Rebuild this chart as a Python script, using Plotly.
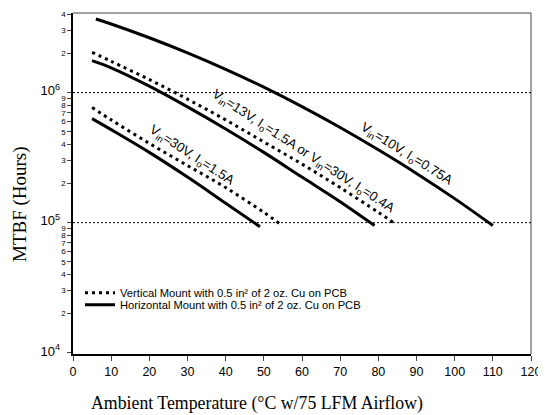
import plotly.graph_objects as go

# ---- data ----
temp_10v_h = [6, 10, 20, 30, 40, 50, 60, 70, 80, 90, 100, 110]
mtbf_10v_h = [3.68e6, 3.37e6, 2.64e6, 2.02e6, 1.51e6, 1.10e6, 7.80e5, 5.39e5, 3.63e5, 2.39e5, 1.53e5, 9.5e4]

temp_13v_v = [5, 10, 20, 30, 40, 50, 60, 70, 80, 84]
mtbf_13v_v = [2.04e6, 1.74e6, 1.26e6, 8.9e5, 6.17e5, 4.17e5, 2.82e5, 1.86e5, 1.20e5, 1.0e5]

temp_13v_h = [5, 10, 20, 30, 40, 50, 60, 70, 79]
mtbf_13v_h = [1.76e6, 1.55e6, 1.12e6, 7.76e5, 5.25e5, 3.47e5, 2.24e5, 1.45e5, 9.5e4]

temp_30v_v = [5, 10, 20, 30, 40, 50, 54]
mtbf_30v_v = [7.67e5, 6.17e5, 4.07e5, 2.75e5, 1.86e5, 1.20e5, 9.9e4]

temp_30v_h = [5, 10, 20, 30, 40, 49]
mtbf_30v_h = [6.31e5, 5.19e5, 3.47e5, 2.24e5, 1.41e5, 9.3e4]

x_ticks = [0, 10, 20, 30, 40, 50, 60, 70, 80, 90, 100, 110, 120]
y_tick_vals = [1e4, 2e4, 3e4, 4e4, 5e4, 6e4, 7e4, 8e4, 9e4,
               1e5, 2e5, 3e5, 4e5, 5e5, 6e5, 7e5, 8e5, 9e5,
               1e6, 2e6, 3e6, 4e6]
y_tick_text = ["10<sup>4</sup>", "2", "3", "4", "5", "6", "7", "8", "9",
               "10<sup>5</sup>", "2", "3", "4", "5", "6", "7", "8", "9",
               "10<sup>6</sup>", "2", "3", "4"]
major_labels = {"10<sup>4</sup>", "10<sup>5</sup>", "10<sup>6</sup>"}

legend_vertical = "Vertical Mount with 0.5 in² of 2 oz. Cu on PCB"
legend_horizontal = "Horizontal Mount with 0.5 in² of 2 oz. Cu on PCB"

label_10v = "V<sub>in</sub>=10V, I<sub>o</sub>=0.75A"
label_13v = "V<sub>in</sub>=13V, I<sub>o</sub>=1.5A or V<sub>in</sub>=30V, I<sub>o</sub>=0.4A"
label_30v = "V<sub>in</sub>=30V, I<sub>o</sub>=1.5A"

x_title = "Ambient Temperature (°C w/75 LFM Airflow)"
y_title = "MTBF (Hours)"

# ---- figure ----
fig = go.Figure()
solid = dict(color="black", width=3)
dotted = dict(color="black", width=3, dash="3px,4px")

fig.add_trace(go.Scatter(x=temp_13v_v, y=mtbf_13v_v, mode="lines", line=dotted,
                         line_shape="spline", name=legend_vertical, legend="legend"))
fig.add_trace(go.Scatter(x=temp_10v_h, y=mtbf_10v_h, mode="lines", line=solid,
                         line_shape="spline", name=legend_horizontal, legend="legend2"))
fig.add_trace(go.Scatter(x=temp_13v_h, y=mtbf_13v_h, mode="lines", line=solid,
                         line_shape="spline", showlegend=False))
fig.add_trace(go.Scatter(x=temp_30v_v, y=mtbf_30v_v, mode="lines", line=dotted,
                         line_shape="spline", showlegend=False))
fig.add_trace(go.Scatter(x=temp_30v_h, y=mtbf_30v_h, mode="lines", line=solid,
                         line_shape="spline", showlegend=False))

ticktext = [
    f'<span style="font-size:13px">{t}</span>\u2002\u2009' if t in major_labels else t
    for t in y_tick_text
]

# page body has an 8px default margin, so the figure is 8px smaller
PLOT_L, PLOT_T, PLOT_W, PLOT_H = 73, 13, 458, 341  # final page pixels
OFF = 8
W, H = 546 - OFF, 415 - OFF

def ppx(px):
    return (px - PLOT_L) / PLOT_W

def ppy(py):
    return (PLOT_T + PLOT_H - py) / PLOT_H

leg_common = dict(x=ppx(80), xanchor="left", yanchor="top",
                  bgcolor="rgba(0,0,0,0)", font=dict(size=11.2), itemwidth=30)

fig.update_layout(
    width=W, height=H,
    margin=dict(l=PLOT_L - OFF, r=W - (PLOT_L - OFF) - PLOT_W, t=PLOT_T - OFF,
                b=H - (PLOT_T - OFF) - PLOT_H, autoexpand=False),
    paper_bgcolor="white", plot_bgcolor="white",
    font=dict(family="Arial, Liberation Sans, sans-serif", color="black"),
    showlegend=True,
    legend=dict(y=ppy(291.5 - 13.3), **leg_common),
    legend2=dict(y=ppy(303.5 - 13.3), **leg_common),
    xaxis=dict(range=[0, 120], tickvals=x_ticks, ticks="outside", ticklen=5,
               showline=True, linecolor="black", linewidth=1.5,
               showgrid=False, zeroline=False, tickfont=dict(size=12.5)),
    yaxis=dict(type="log", range=[3.99, 6.612], tickvals=y_tick_vals,
               ticktext=ticktext, ticks="outside", ticklen=4,
               showline=True, linecolor="black", linewidth=1.5,
               showgrid=False, zeroline=False, tickfont=dict(size=8)),
)

# frame (top and right) and dotted reference lines
fig.add_shape(type="line", xref="paper", yref="paper", x0=0, x1=1, y0=1, y1=1,
              line=dict(color="#444", width=1))
fig.add_shape(type="line", xref="paper", yref="paper", x0=1, x1=1, y0=0, y1=1,
              line=dict(color="#444", width=1))
for yv in [1e5, 1e6]:
    fig.add_shape(type="line", xref="paper", yref="y", x0=0, x1=1, y0=yv, y1=yv,
                  line=dict(color="black", width=1, dash="2px,2px"))

# curve labels
lab_font = dict(family="Arial, Liberation Sans, sans-serif", size=13.3, color="black")
fig.add_annotation(x=87.5, y=5.527, text=label_10v, textangle=32, showarrow=False, font=lab_font)
fig.add_annotation(x=60.2, y=5.545, text=label_13v, textangle=33, showarrow=False, font=lab_font)
fig.add_annotation(x=31.1, y=5.519, text=label_30v, textangle=33, showarrow=False, font=lab_font)

# axis titles
serif = "Liberation Serif, Times New Roman, serif"
fig.add_annotation(xref="paper", yref="paper", x=ppx(257), y=ppy(403),
                   text=x_title, showarrow=False,
                   font=dict(family=serif, size=17.8), xanchor="center", yanchor="middle")
fig.add_annotation(xref="paper", yref="paper", x=ppx(20), y=ppy(204),
                   text=y_title, textangle=-90, showarrow=False,
                   font=dict(family=serif, size=19), xanchor="center", yanchor="middle")

fig.write_html("out.html")
